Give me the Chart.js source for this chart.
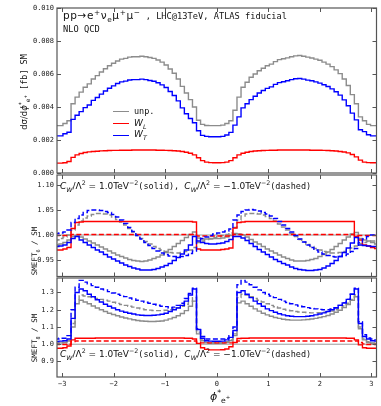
<!DOCTYPE html>
<html>
<head>
<meta charset="utf-8">
<script src="https://cdn.jsdelivr.net/npm/chart.js@4.4.1/dist/chart.umd.min.js"></script>
<style>
html, body { margin: 0; padding: 0; background: #fff; }
#wrap { position: relative; width: 381px; height: 406px; overflow: hidden; background: #fff; }
#wrap canvas { position: absolute; left: 0; top: 0; }
.t { position: absolute; white-space: nowrap; color: #111; line-height: 1; }
.mono { font-family: 'DejaVu Sans Mono', monospace; }
.sans { font-family: 'DejaVu Sans', sans-serif; }
.rot { transform: translate(-50%, -50%) rotate(-90deg); }
sup, sub { font-size: 70%; line-height: 0; }
.leg { position: absolute; left: 113px; width: 16px; height: 0; border-top: 1.5px solid; }
</style>
</head>
<body>
<div id="wrap">
  <canvas id="c1" width="381" height="406"></canvas>
  <canvas id="c2" width="381" height="406"></canvas>
  <canvas id="c3" width="381" height="406"></canvas>

  <div class="t sans" style="left:63px;top:10px;font-size:10.5px;letter-spacing:0.6px">pp→e<sup>+</sup>ν<sub>e</sub>μ<sup>+</sup>μ<sup>−</sup><span class="mono" style="font-size:8.7px;letter-spacing:0"> , LHC@13TeV, ATLAS fiducial</span></div>
  <div class="t mono" style="left:63px;top:25px;font-size:8.7px">NLO QCD</div>

  <div class="leg" style="top:111px;border-color:#8c8c8c"></div>
  <div class="t mono" style="left:134px;top:107px;font-size:8.5px">unp.</div>
  <div class="leg" style="top:123px;border-color:#ff0000"></div>
  <div class="t sans" style="left:134px;top:118.5px;font-size:9px"><i>W</i><sub><i>L</i></sub></div>
  <div class="leg" style="top:134.5px;border-color:#0000ff"></div>
  <div class="t sans" style="left:134px;top:130px;font-size:9px"><i>W</i><sub><i>T</i></sub></div>

  <div class="t rot" style="left:23.5px;top:92px;font-size:8.5px"><span class="sans">dσ/d<i>ϕ</i><sup>*</sup><sub>e<sup>+</sup></sub></span><span class="mono"> [fb] SM</span></div>
  <div class="t rot mono" style="left:34.5px;top:251px;font-size:7.5px">SMEFT<sub>6</sub> / SM</div>
  <div class="t rot mono" style="left:34.5px;top:338px;font-size:7.5px">SMEFT<sub>8</sub> / SM</div>

  <div class="t sans" style="left:60px;top:182px;font-size:9px"><i>C</i><sub><i>W</i></sub>/Λ<sup>2</sup> = 1.0TeV<sup>−2</sup><span class="mono" style="font-size:8.5px">(solid), </span><i>C</i><sub><i>W</i></sub>/Λ<sup>2</sup> = −1.0TeV<sup>−2</sup><span class="mono" style="font-size:8.5px">(dashed)</span></div>
  <div class="t sans" style="left:60px;top:350px;font-size:9px"><i>C</i><sub><i>W</i></sub>/Λ<sup>2</sup> = 1.0TeV<sup>−2</sup><span class="mono" style="font-size:8.5px">(solid), </span><i>C</i><sub><i>W</i></sub>/Λ<sup>2</sup> = −1.0TeV<sup>−2</sup><span class="mono" style="font-size:8.5px">(dashed)</span></div>

  <div class="t sans" style="left:210px;top:391px;font-size:11px"><i>ϕ</i><sup>*</sup><sub>e<sup>+</sup></sub></div>
</div>
<script>
// histogram binning and axis ticks
const nBins = 80;
const xMin = -3.1, xMax = 3.1;
const xTicks = [-3, -2, -1, 0, 1, 2, 3];

// top panel: dsigma/dphi, SM, in units of 1e-3 fb
const unit = 1e-3;
const unpSM = [2.87, 2.87, 3.0, 3.17, 4.2, 4.6, 4.9, 5.2, 5.4, 5.7,
  5.9, 6.12, 6.32, 6.5, 6.65, 6.79, 6.9, 6.95, 7.02, 7.05,
  7.05, 7.08, 7.05, 7.0, 6.95, 6.85, 6.72, 6.55, 6.3, 6.05,
  5.7, 5.25, 4.85, 4.45, 4.0, 3.2, 2.95, 2.88, 2.87, 2.87,
  2.87, 2.9, 3.0, 3.17, 3.8, 4.6, 5.2, 5.5, 5.8, 6.0,
  6.2, 6.35, 6.5, 6.6, 6.75, 6.87, 6.92, 6.98, 7.05, 7.1,
  7.12, 7.08, 7.02, 6.97, 6.9, 6.83, 6.72, 6.6, 6.45, 6.25,
  6.02, 5.7, 5.3, 4.75, 4.2, 3.4, 3.17, 2.95, 2.87, 2.87];
const wlSM = [0.6, 0.6, 0.62, 0.7, 0.95, 1.1, 1.18, 1.24, 1.28, 1.3,
  1.32, 1.34, 1.35, 1.36, 1.37, 1.37, 1.38, 1.38, 1.38, 1.39,
  1.39, 1.39, 1.39, 1.39, 1.39, 1.38, 1.38, 1.37, 1.36, 1.35,
  1.33, 1.3, 1.26, 1.2, 1.1, 0.92, 0.75, 0.66, 0.63, 0.62,
  0.62, 0.63, 0.66, 0.75, 0.92, 1.1, 1.2, 1.26, 1.3, 1.33,
  1.35, 1.36, 1.37, 1.38, 1.38, 1.39, 1.39, 1.39, 1.39, 1.39,
  1.39, 1.39, 1.39, 1.38, 1.38, 1.38, 1.37, 1.36, 1.35, 1.33,
  1.3, 1.27, 1.22, 1.12, 0.98, 0.78, 0.66, 0.63, 0.62, 0.62];
const wtSM = [2.25, 2.25, 2.38, 2.47, 3.25, 3.5, 3.72, 3.96, 4.12, 4.4,
  4.58, 4.78, 4.97, 5.14, 5.28, 5.42, 5.52, 5.57, 5.64, 5.66,
  5.66, 5.69, 5.66, 5.61, 5.56, 5.47, 5.34, 5.18, 4.94, 4.7,
  4.37, 3.95, 3.59, 3.3, 3.05, 2.56, 2.28, 2.22, 2.2, 2.2,
  2.2, 2.22, 2.3, 2.46, 2.9, 3.4, 3.95, 4.2, 4.45, 4.65,
  4.85, 5.0, 5.13, 5.22, 5.37, 5.48, 5.53, 5.59, 5.66, 5.71,
  5.73, 5.69, 5.63, 5.59, 5.52, 5.45, 5.35, 5.24, 5.1, 4.92,
  4.72, 4.43, 4.08, 3.63, 3.22, 2.62, 2.51, 2.32, 2.25, 2.25];
const yTicksSM = [0, 0.002, 0.004, 0.006, 0.008, 0.010];

// middle panel: SMEFT6 / SM, C_W = +1 (solid) and -1 (dashed)
const unp6Pos = [0.980, 0.982, 0.985, 0.990, 0.997, 0.999, 0.996, 0.992, 0.988, 0.984,
  0.980, 0.976, 0.972, 0.968, 0.964, 0.960, 0.957, 0.954, 0.951, 0.949,
  0.948, 0.947, 0.948, 0.950, 0.953, 0.956, 0.960, 0.965, 0.971, 0.977,
  0.983, 0.989, 0.995, 1.001, 1.006, 0.994, 0.992, 0.992, 0.992, 0.993,
  0.993, 0.994, 0.996, 0.999, 1.003, 1.002, 1.000, 0.996, 0.991, 0.986,
  0.982, 0.977, 0.972, 0.968, 0.964, 0.960, 0.956, 0.953, 0.950, 0.948,
  0.948, 0.948, 0.949, 0.951, 0.953, 0.957, 0.961, 0.966, 0.971, 0.977,
  0.983, 0.990, 0.996, 1.002, 1.005, 0.993, 0.990, 0.988, 0.985, 0.982];
const unp6Neg = [0.990, 0.993, 0.996, 1.000, 1.010, 1.020, 1.028, 1.034, 1.038, 1.041,
  1.043, 1.043, 1.042, 1.040, 1.036, 1.031, 1.026, 1.020, 1.013, 1.006,
  0.999, 0.993, 0.987, 0.982, 0.977, 0.973, 0.970, 0.967, 0.965, 0.964,
  0.964, 0.965, 0.967, 0.970, 0.975, 0.985, 0.988, 0.991, 0.993, 0.995,
  0.997, 0.999, 1.001, 1.004, 1.015, 1.030, 1.038, 1.042, 1.043, 1.043,
  1.042, 1.040, 1.037, 1.033, 1.028, 1.022, 1.016, 1.010, 1.003, 0.997,
  0.991, 0.986, 0.981, 0.977, 0.973, 0.970, 0.967, 0.965, 0.964, 0.964,
  0.965, 0.967, 0.970, 0.974, 0.978, 0.983, 0.985, 0.987, 0.988, 0.990];
const wl6Pos = [0.970, 0.970, 0.972, 0.975, 1.013, 1.025, 1.026, 1.027, 1.027, 1.027,
  1.027, 1.027, 1.027, 1.027, 1.027, 1.027, 1.027, 1.027, 1.027, 1.027,
  1.027, 1.027, 1.027, 1.027, 1.027, 1.027, 1.027, 1.027, 1.027, 1.027,
  1.027, 1.027, 1.027, 1.027, 1.026, 0.972, 0.970, 0.970, 0.970, 0.970,
  0.970, 0.971, 0.972, 0.974, 1.014, 1.025, 1.026, 1.027, 1.027, 1.027,
  1.027, 1.027, 1.027, 1.027, 1.027, 1.027, 1.027, 1.027, 1.027, 1.027,
  1.027, 1.027, 1.027, 1.027, 1.027, 1.027, 1.027, 1.027, 1.027, 1.027,
  1.027, 1.027, 1.027, 1.027, 0.997, 0.990, 0.980, 0.978, 0.975, 0.973];
const wl6Neg = [0.999, 0.999, 0.999, 0.999, 1.001, 1.001, 1.001, 1.001, 1.001, 1.001,
  1.001, 1.001, 1.001, 1.001, 1.001, 1.001, 1.001, 1.001, 1.001, 1.001,
  1.001, 1.001, 1.001, 1.001, 1.001, 1.001, 1.001, 1.001, 1.001, 1.001,
  1.001, 1.001, 1.001, 1.001, 1.001, 0.998, 0.998, 0.998, 0.998, 0.998,
  0.998, 0.998, 0.998, 0.998, 1.001, 1.001, 1.001, 1.001, 1.001, 1.001,
  1.001, 1.001, 1.001, 1.001, 1.001, 1.001, 1.001, 1.001, 1.001, 1.001,
  1.001, 1.001, 1.001, 1.001, 1.001, 1.001, 1.001, 1.001, 1.001, 1.001,
  1.001, 1.001, 1.001, 1.001, 0.999, 0.999, 0.999, 0.999, 0.999, 0.999];
const wt6Pos = [0.977, 0.978, 0.980, 0.985, 0.993, 0.997, 0.990, 0.985, 0.980, 0.975,
  0.970, 0.966, 0.961, 0.956, 0.952, 0.948, 0.944, 0.940, 0.937, 0.934,
  0.932, 0.930, 0.930, 0.930, 0.931, 0.933, 0.936, 0.939, 0.943, 0.949,
  0.955, 0.962, 0.970, 0.980, 0.997, 0.988, 0.985, 0.983, 0.982, 0.982,
  0.983, 0.984, 0.987, 0.991, 0.997, 0.997, 0.994, 0.989, 0.983, 0.977,
  0.971, 0.966, 0.961, 0.956, 0.951, 0.947, 0.943, 0.940, 0.936, 0.933,
  0.931, 0.930, 0.929, 0.929, 0.930, 0.931, 0.934, 0.938, 0.943, 0.949,
  0.957, 0.965, 0.974, 0.984, 0.995, 0.980, 0.979, 0.978, 0.977, 0.977];
const wt6Neg = [1.003, 1.004, 1.006, 1.010, 1.025, 1.033, 1.040, 1.045, 1.049, 1.050,
  1.050, 1.049, 1.047, 1.045, 1.041, 1.036, 1.030, 1.023, 1.015, 1.007,
  0.999, 0.992, 0.985, 0.979, 0.973, 0.968, 0.964, 0.961, 0.958, 0.957,
  0.956, 0.957, 0.959, 0.963, 0.968, 0.990, 0.993, 0.996, 0.999, 1.002,
  1.004, 1.006, 1.008, 1.012, 1.030, 1.040, 1.047, 1.050, 1.051, 1.050,
  1.048, 1.045, 1.042, 1.038, 1.033, 1.027, 1.020, 1.013, 1.006, 0.999,
  0.992, 0.986, 0.980, 0.975, 0.970, 0.966, 0.962, 0.959, 0.957, 0.956,
  0.957, 0.959, 0.962, 0.967, 0.973, 0.985, 0.992, 0.997, 1.000, 1.002];
const yTicks6 = [0.95, 1.00, 1.05, 1.10];

// bottom panel: SMEFT8 / SM
const unp8Pos = [1.005, 1.008, 1.010, 1.020, 1.100, 1.235, 1.255, 1.245, 1.235, 1.222,
  1.210, 1.200, 1.190, 1.180, 1.172, 1.165, 1.158, 1.152, 1.147, 1.142,
  1.138, 1.135, 1.133, 1.132, 1.132, 1.133, 1.135, 1.140, 1.147, 1.155,
  1.165, 1.178, 1.195, 1.220, 1.250, 1.060, 1.020, 1.008, 1.005, 1.005,
  1.005, 1.005, 1.010, 1.020, 1.050, 1.240, 1.250, 1.235, 1.220, 1.205,
  1.192, 1.180, 1.170, 1.162, 1.155, 1.150, 1.145, 1.142, 1.140, 1.140,
  1.140, 1.141, 1.143, 1.146, 1.150, 1.155, 1.160, 1.167, 1.175, 1.185,
  1.197, 1.212, 1.230, 1.255, 1.275, 1.090, 1.025, 1.010, 1.005, 1.005];
const unp8Neg = [1.005, 1.008, 1.010, 1.020, 1.120, 1.260, 1.285, 1.280, 1.275, 1.270,
  1.265, 1.260, 1.255, 1.250, 1.243, 1.237, 1.230, 1.225, 1.220, 1.215,
  1.210, 1.205, 1.200, 1.198, 1.196, 1.195, 1.195, 1.197, 1.200, 1.205,
  1.212, 1.220, 1.232, 1.250, 1.270, 1.070, 1.025, 1.012, 1.010, 1.010,
  1.010, 1.010, 1.015, 1.025, 1.060, 1.270, 1.290, 1.285, 1.275, 1.265,
  1.255, 1.245, 1.235, 1.225, 1.217, 1.210, 1.203, 1.198, 1.194, 1.190,
  1.187, 1.185, 1.183, 1.182, 1.182, 1.183, 1.185, 1.188, 1.193, 1.200,
  1.210, 1.222, 1.238, 1.260, 1.285, 1.100, 1.030, 1.015, 1.008, 1.005];
const wl8Pos = [0.977, 0.977, 0.980, 0.990, 1.025, 1.035, 1.035, 1.035, 1.035, 1.035,
  1.036, 1.036, 1.036, 1.036, 1.036, 1.036, 1.036, 1.036, 1.036, 1.036,
  1.036, 1.036, 1.036, 1.036, 1.036, 1.036, 1.036, 1.036, 1.036, 1.036,
  1.036, 1.036, 1.035, 1.035, 1.030, 1.005, 0.980, 0.970, 0.967, 0.967,
  0.967, 0.968, 0.972, 0.985, 1.010, 1.033, 1.035, 1.035, 1.036, 1.036,
  1.036, 1.036, 1.036, 1.036, 1.036, 1.036, 1.036, 1.036, 1.036, 1.036,
  1.036, 1.036, 1.036, 1.036, 1.036, 1.036, 1.036, 1.036, 1.036, 1.036,
  1.036, 1.036, 1.035, 1.035, 1.025, 0.996, 0.980, 0.977, 0.977, 0.977];
const wl8Neg = [0.998, 0.998, 0.998, 1.000, 1.015, 1.019, 1.019, 1.019, 1.019, 1.019,
  1.019, 1.019, 1.019, 1.019, 1.019, 1.019, 1.019, 1.019, 1.019, 1.019,
  1.019, 1.019, 1.019, 1.019, 1.019, 1.019, 1.019, 1.019, 1.019, 1.019,
  1.019, 1.019, 1.019, 1.019, 1.019, 1.012, 1.008, 1.008, 1.008, 1.008,
  1.008, 1.008, 1.008, 1.008, 1.012, 1.019, 1.019, 1.019, 1.019, 1.019,
  1.019, 1.019, 1.019, 1.019, 1.019, 1.019, 1.019, 1.019, 1.019, 1.019,
  1.019, 1.019, 1.019, 1.019, 1.019, 1.019, 1.019, 1.019, 1.019, 1.019,
  1.019, 1.019, 1.019, 1.019, 1.019, 1.010, 1.002, 0.998, 0.998, 0.998];
const wt8Pos = [1.015, 1.018, 1.020, 1.030, 1.150, 1.300, 1.320, 1.310, 1.290, 1.275,
  1.258, 1.245, 1.232, 1.220, 1.210, 1.200, 1.192, 1.185, 1.180, 1.175,
  1.170, 1.168, 1.167, 1.167, 1.168, 1.170, 1.174, 1.180, 1.190, 1.200,
  1.210, 1.225, 1.250, 1.285, 1.320, 1.085, 1.035, 1.020, 1.018, 1.017,
  1.017, 1.018, 1.025, 1.040, 1.080, 1.300, 1.310, 1.290, 1.270, 1.250,
  1.235, 1.220, 1.205, 1.195, 1.185, 1.177, 1.170, 1.165, 1.162, 1.160,
  1.160, 1.160, 1.162, 1.165, 1.170, 1.175, 1.182, 1.190, 1.200, 1.210,
  1.225, 1.240, 1.260, 1.290, 1.320, 1.120, 1.045, 1.030, 1.020, 1.018];
const wt8Neg = [1.030, 1.035, 1.035, 1.050, 1.200, 1.330, 1.370, 1.360, 1.350, 1.340,
  1.330, 1.320, 1.315, 1.305, 1.297, 1.290, 1.283, 1.276, 1.268, 1.262,
  1.255, 1.250, 1.243, 1.238, 1.232, 1.226, 1.220, 1.218, 1.210, 1.215,
  1.225, 1.238, 1.265, 1.295, 1.325, 1.090, 1.045, 1.030, 1.030, 1.030,
  1.030, 1.030, 1.035, 1.050, 1.100, 1.345, 1.370, 1.360, 1.345, 1.330,
  1.315, 1.300, 1.290, 1.280, 1.270, 1.260, 1.250, 1.242, 1.235, 1.228,
  1.222, 1.217, 1.212, 1.208, 1.205, 1.202, 1.200, 1.200, 1.205, 1.212,
  1.225, 1.240, 1.260, 1.290, 1.325, 1.130, 1.055, 1.036, 1.030, 1.025];
const yTicks8 = [0.9, 1.0, 1.1, 1.2, 1.3];

const GRAY = '#8c8c8c', RED = '#ff0000', BLUE = '#0000ff';
const tickFont = { family: 'DejaVu Sans Mono', size: 7 };

const binEdges = Array.from({ length: nBins + 1 }, (_, i) => -Math.PI + i * 2 * Math.PI / nBins);

// left bin edge carries the bin value, plus closing point at the last edge
function steps(vals, scale) {
  const pts = vals.map((v, i) => ({ x: binEdges[i], y: v * scale }));
  pts.push({ x: binEdges[nBins], y: vals[nBins - 1] * scale });
  return pts;
}

function hist(label, vals, color, dashed, scale = 1) {
  return {
    label, data: steps(vals, scale), borderColor: color, borderWidth: 1.4,
    borderDash: dashed ? [5, 2.5] : [], stepped: true, pointRadius: 0, fill: false
  };
}

function refLine() {
  return { label: 'ref', data: [{ x: xMin, y: 1 }, { x: xMax, y: 1 }], borderColor: '#9a9a9a', borderWidth: 1, pointRadius: 0 };
}

// frame with inward ticks on all four sides
function framePlugin(yTicks) {
  return {
    id: 'frame',
    afterDatasetsDraw(chart) {
      const { ctx, chartArea: a, scales } = chart;
      ctx.save();
      ctx.strokeStyle = '#555';
      ctx.lineWidth = 1.2;
      ctx.strokeRect(a.left, a.top, a.right - a.left, a.bottom - a.top);
      ctx.beginPath();
      xTicks.forEach(v => {
        const px = Math.round(scales.x.getPixelForValue(v)) + 0.5;
        ctx.moveTo(px, a.bottom); ctx.lineTo(px, a.bottom - 4);
        ctx.moveTo(px, a.top); ctx.lineTo(px, a.top + 4);
      });
      yTicks.forEach(v => {
        const py = Math.round(scales.y.getPixelForValue(v)) + 0.5;
        ctx.moveTo(a.left, py); ctx.lineTo(a.left + 4, py);
        ctx.moveTo(a.right, py); ctx.lineTo(a.right - 4, py);
      });
      ctx.lineWidth = 1;
      ctx.stroke();
      ctx.restore();
    }
  };
}

function makePanel(id, datasets, opt) {
  return new Chart(document.getElementById(id), {
    type: 'line',
    data: { datasets },
    options: {
      responsive: false,
      animation: false,
      events: [],
      layout: { padding: { top: opt.top, bottom: opt.bottom, left: 0, right: 4.5 } },
      plugins: { legend: { display: false }, tooltip: { enabled: false } },
      scales: {
        x: {
          type: 'linear', min: xMin, max: xMax, display: opt.showX,
          afterBuildTicks: s => { s.ticks = xTicks.map(v => ({ value: v })); },
          afterFit: s => { s.height = opt.showX ? 29 : 0; },
          grid: { display: false, drawTicks: false },
          border: { display: false },
          ticks: {
            font: tickFont, color: '#222', padding: 3, maxRotation: 0, autoSkip: false,
            callback: v => (v < 0 ? '\u2212' + (-v) : String(v))
          }
        },
        y: {
          type: 'linear', min: opt.yMin, max: opt.yMax,
          afterBuildTicks: s => { s.ticks = opt.yTicks.map(v => ({ value: v })); },
          afterFit: s => { s.width = 57; },
          grid: { display: false, drawTicks: false },
          border: { display: false },
          ticks: { font: tickFont, color: '#222', padding: 3, autoSkip: false, callback: v => v.toFixed(opt.dec) }
        }
      }
    },
    plugins: [framePlugin(opt.yTicks)]
  });
}

makePanel('c1', [
  hist('W_T', wtSM, BLUE, false, unit),
  hist('W_L', wlSM, RED, false, unit),
  hist('unp.', unpSM, GRAY, false, unit)
], { top: 8, bottom: 233, yMin: 0, yMax: 0.010, yTicks: yTicksSM, dec: 3, showX: false });

makePanel('c2', [
  hist('W_T +', wt6Pos, BLUE, false), hist('W_T -', wt6Neg, BLUE, true),
  hist('W_L +', wl6Pos, RED, false), hist('W_L -', wl6Neg, RED, true),
  hist('unp. +', unp6Pos, GRAY, false), hist('unp. -', unp6Neg, GRAY, true),
  refLine()
], { top: 175, bottom: 129.5, yMin: 0.917, yMax: 1.12, yTicks: yTicks6, dec: 2, showX: false });

makePanel('c3', [
  hist('W_T +', wt8Pos, BLUE, false), hist('W_T -', wt8Neg, BLUE, true),
  hist('W_L +', wl8Pos, RED, false), hist('W_L -', wl8Neg, RED, true),
  hist('unp. +', unp8Pos, GRAY, false), hist('unp. -', unp8Neg, GRAY, true),
  refLine()
], { top: 278, bottom: 0, yMin: 0.81, yMax: 1.384, yTicks: yTicks8, dec: 1, showX: true });
</script>
</body>
</html>
